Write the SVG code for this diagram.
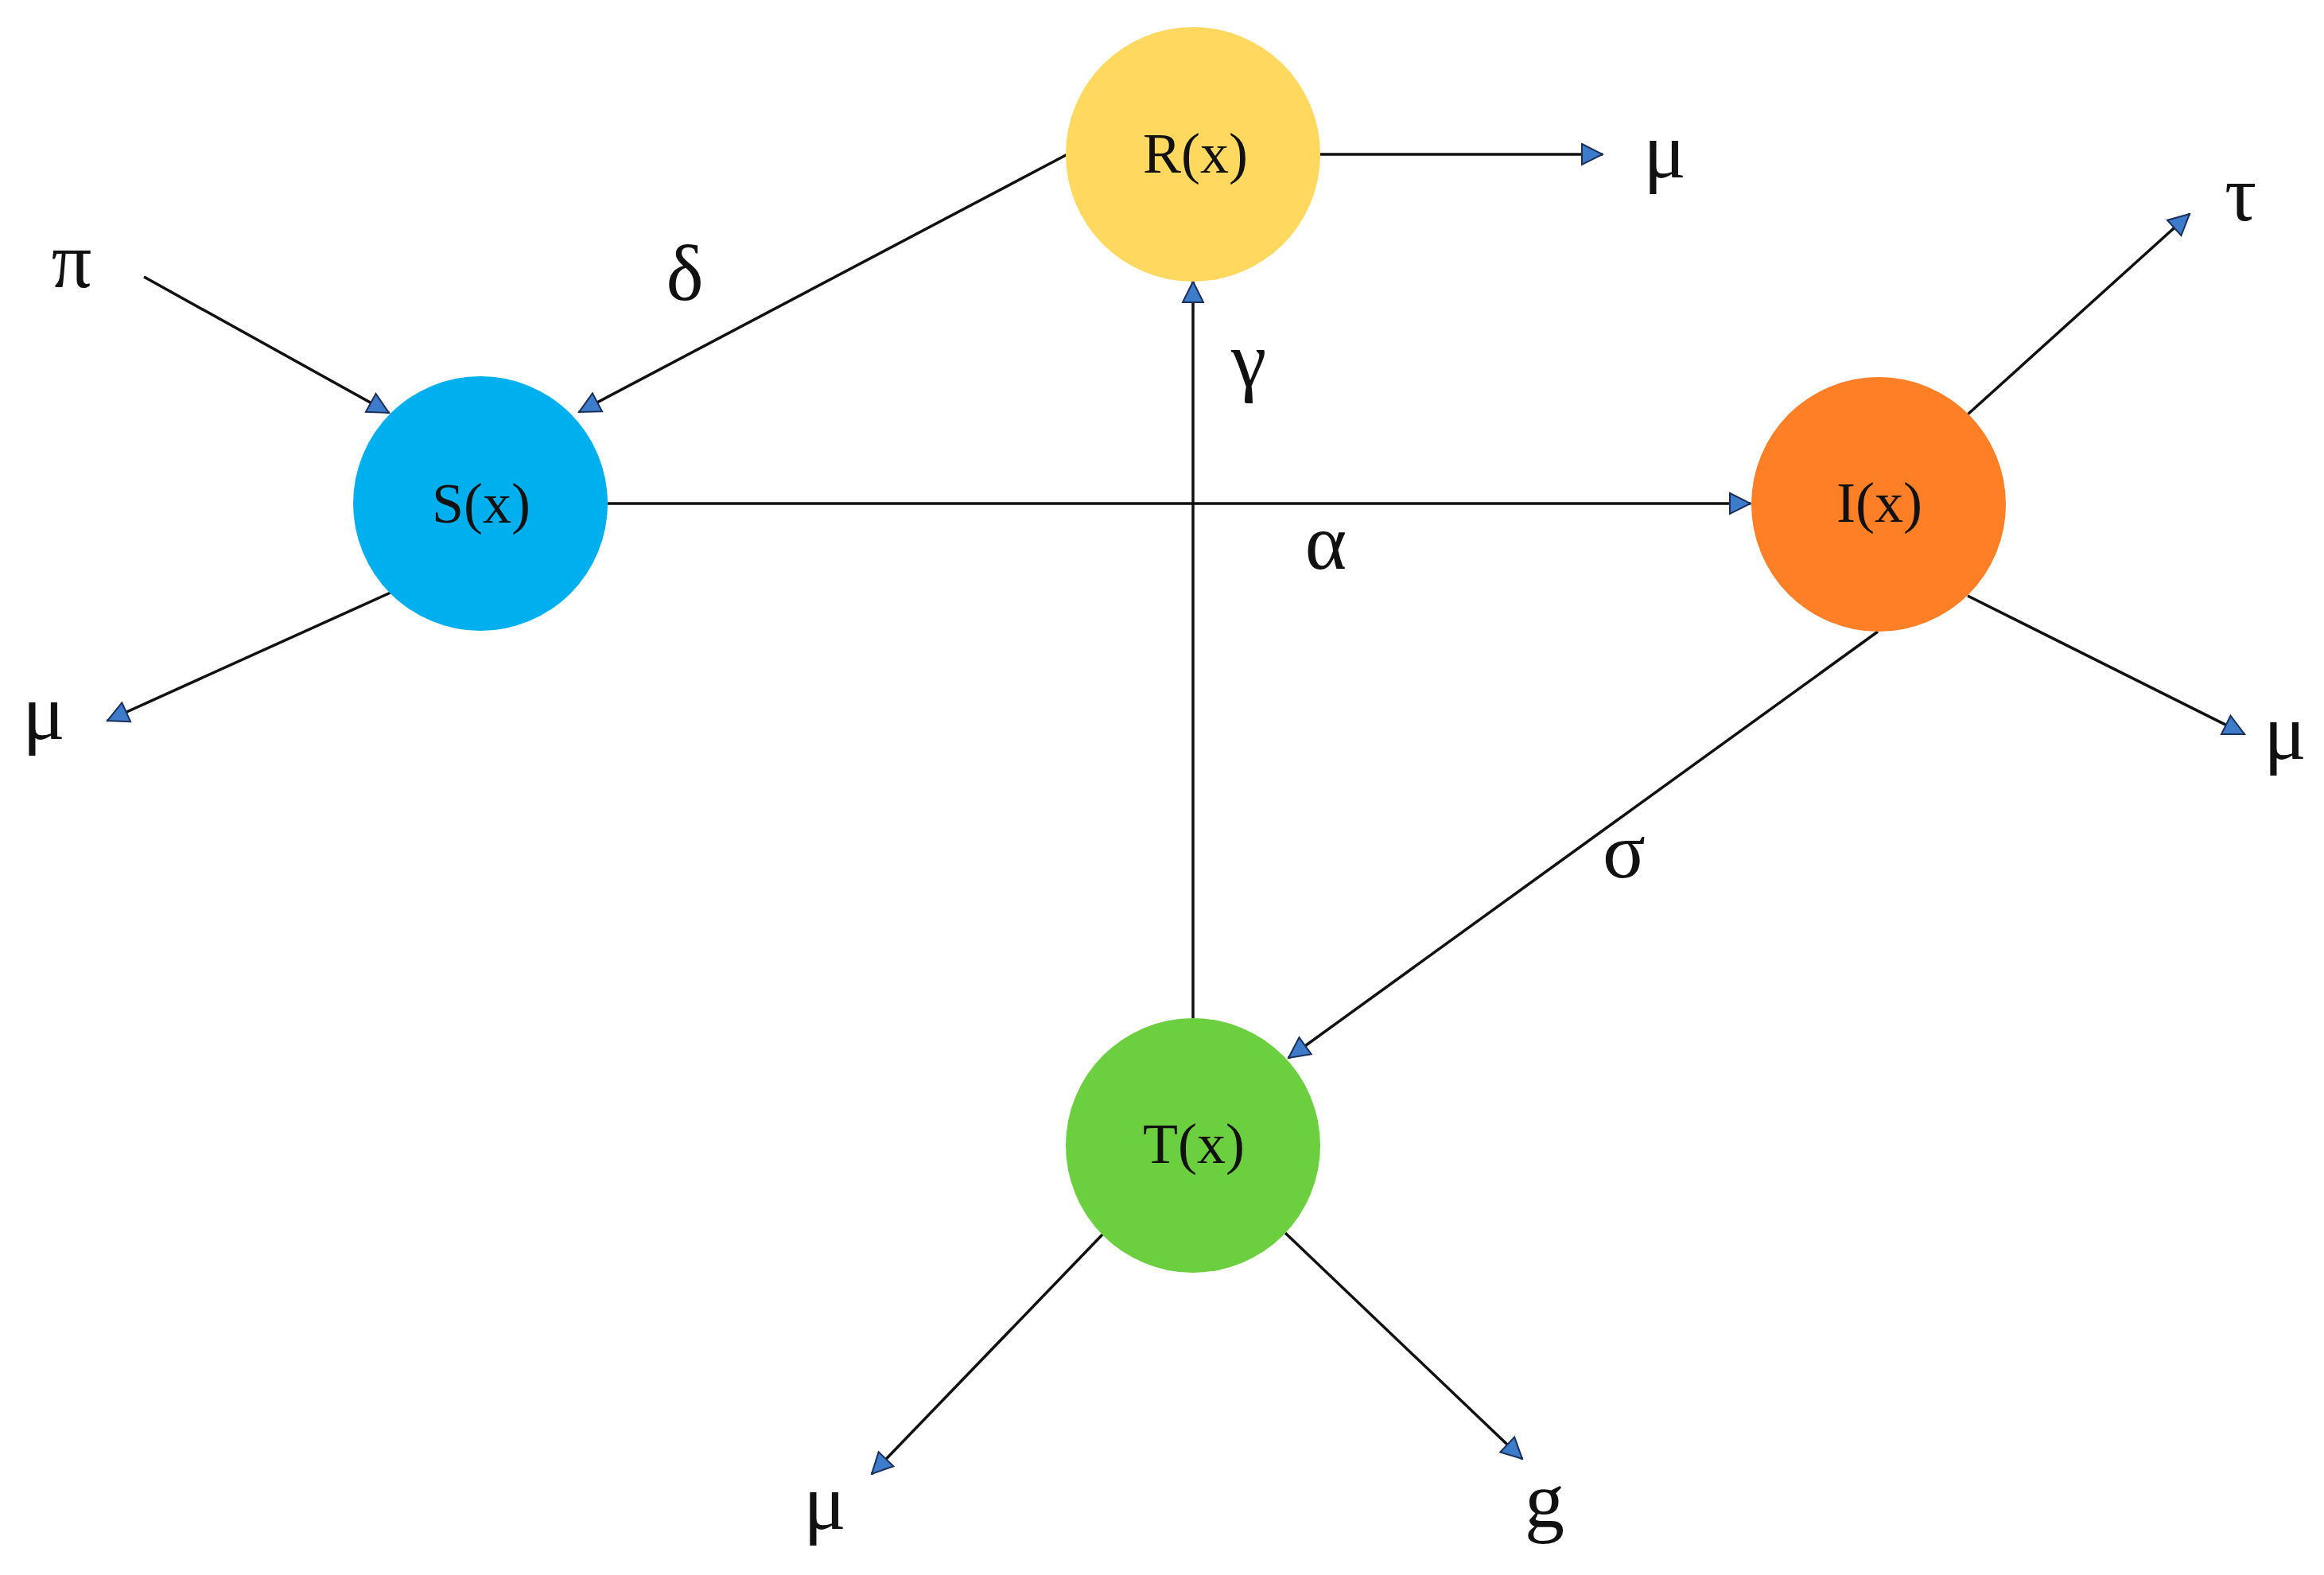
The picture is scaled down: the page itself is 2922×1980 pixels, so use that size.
<svg xmlns="http://www.w3.org/2000/svg" width="2922" height="1980" viewBox="0 0 2922 1980">
<style>
.edge{stroke:#111;stroke-width:3.5;fill:none;marker-end:url(#ah)}
.nlabel{font-size:72px;fill:#111;text-anchor:middle}
.glabel{font-size:100px;fill:#111;text-anchor:middle}
</style>
<defs>
<marker id="ah" markerUnits="userSpaceOnUse" markerWidth="30" markerHeight="30" refX="26" refY="13" orient="auto" viewBox="-2 -2 30 30">
<path d="M0,0 L26,13 L0,26 Z" fill="#3D7BCB" stroke="#1B2F5A" stroke-width="2" stroke-linejoin="miter"/>
</marker>
</defs>
<rect x="0" y="0" width="2922" height="1980" fill="#ffffff"/>
<g id="connectors">
<line class="edge" x1="181" y1="348" x2="489" y2="519"/>
<line class="edge" x1="1342" y1="194" x2="728" y2="518"/>
<line class="edge" x1="491" y1="745" x2="135" y2="906"/>
<line class="edge" x1="764" y1="633" x2="2201" y2="633"/>
<line class="edge" x1="1660" y1="194" x2="2015" y2="194"/>
<line class="edge" x1="1500" y1="1280" x2="1500" y2="354"/>
<line class="edge" x1="2474" y1="521" x2="2753" y2="269"/>
<line class="edge" x1="2474" y1="749" x2="2822" y2="923"/>
<line class="edge" x1="2361" y1="794" x2="1620" y2="1330"/>
<line class="edge" x1="1388" y1="1550" x2="1096" y2="1853"/>
<line class="edge" x1="1616" y1="1550" x2="1914" y2="1834"/>
</g>
<g font-family="Liberation Serif, Times New Roman, serif">
<g id="node-R">
<circle cx="1500" cy="194" r="160" fill="#FFD860"/>
<text class="nlabel" x="1503" y="217">R(x)</text>
</g>
<g id="node-S">
<circle cx="604" cy="633" r="160" fill="#00B0EE"/>
<text class="nlabel" x="605" y="657">S(x)</text>
</g>
<g id="node-I">
<circle cx="2362" cy="634" r="160" fill="#FF7F27"/>
<text class="nlabel" x="2363" y="656">I(x)</text>
</g>
<g id="node-T">
<circle cx="1500" cy="1440" r="160" fill="#6CCF40"/>
<text class="nlabel" x="1501" y="1462">T(x)</text>
</g>
<g id="labels">
<text class="glabel" x="90" y="361">π</text>
<text class="glabel" x="861" y="377">δ</text>
<text class="glabel" x="2093" y="223">μ</text>
<text class="glabel" x="1570" y="486">γ</text>
<text class="glabel" x="1667" y="715">α</text>
<text class="glabel" x="2817" y="277">τ</text>
<text class="glabel" x="55" y="929">μ</text>
<text class="glabel" x="2873" y="954">μ</text>
<text class="glabel" x="2042" y="1103">σ</text>
<text class="glabel" x="1037" y="1922">μ</text>
<text class="glabel" x="1942" y="1920">g</text>
</g>
</g>
</svg>
